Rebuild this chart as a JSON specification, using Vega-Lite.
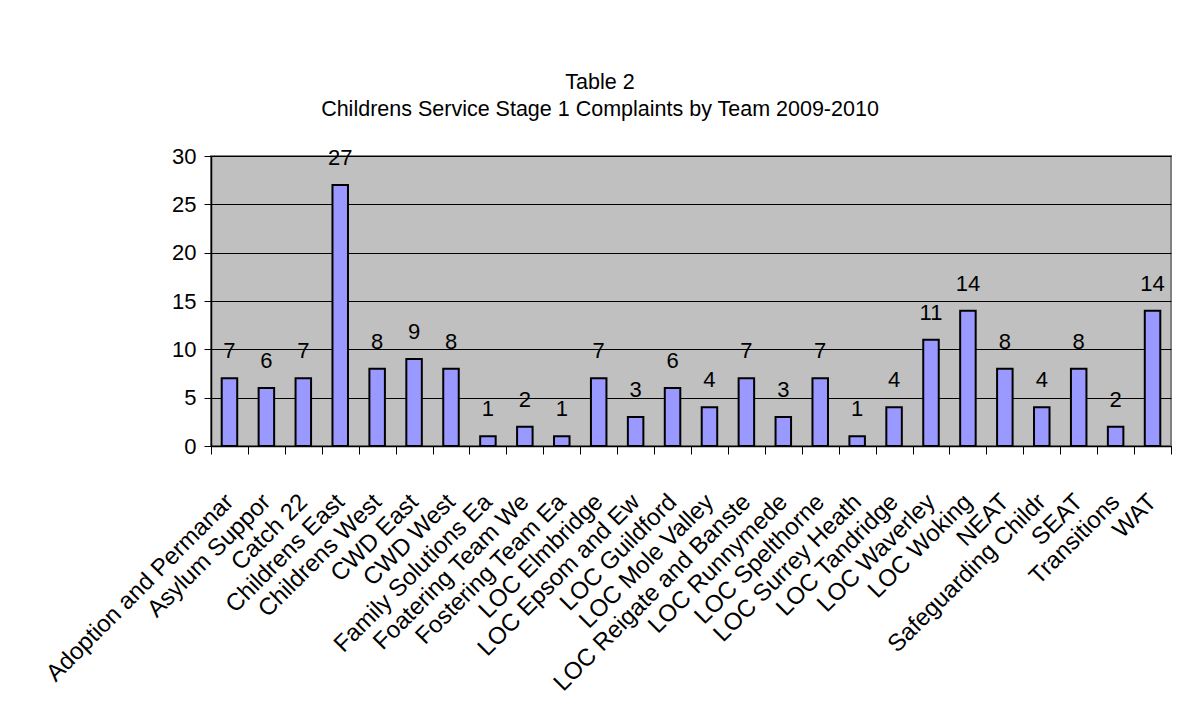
{
  "$schema": "https://vega.github.io/schema/vega-lite/v6.json",
  "width": 960,
  "height": 290,
  "autosize": {"type": "none"},
  "padding": {"left": 211, "top": 156, "right": 13, "bottom": 279},
  "background": "white",
  "title": {
    "text": ["Table 2", "Childrens Service Stage 1 Complaints by Team 2009-2010"],
    "font": "Liberation Sans",
    "fontSize": 21.5,
    "fontWeight": "normal",
    "color": "black",
    "lineHeight": 27,
    "anchor": "middle",
    "dx": -91,
    "offset": 25
  },
  "data": {
    "values": [
      {"team": "Adoption and Permanar", "complaints": 7},
      {"team": "Asylum Suppor", "complaints": 6},
      {"team": "Catch 22", "complaints": 7},
      {"team": "Childrens East", "complaints": 27},
      {"team": "Childrens West", "complaints": 8},
      {"team": "CWD East", "complaints": 9},
      {"team": "CWD West", "complaints": 8},
      {"team": "Family Solutions Ea", "complaints": 1},
      {"team": "Foatering Team We", "complaints": 2},
      {"team": "Fostering Team Ea", "complaints": 1},
      {"team": "LOC Elmbridge", "complaints": 7},
      {"team": "LOC Epsom and Ew", "complaints": 3},
      {"team": "LOC Guildford", "complaints": 6},
      {"team": "LOC Mole Valley", "complaints": 4},
      {"team": "LOC Reigate and Banste", "complaints": 7},
      {"team": "LOC Runnymede", "complaints": 3},
      {"team": "LOC Spelthorne", "complaints": 7},
      {"team": "LOC Surrey Heath", "complaints": 1},
      {"team": "LOC Tandridge", "complaints": 4},
      {"team": "LOC Waverley", "complaints": 11},
      {"team": "LOC Woking", "complaints": 14},
      {"team": "NEAT", "complaints": 8},
      {"team": "Safeguarding Childr", "complaints": 4},
      {"team": "SEAT", "complaints": 8},
      {"team": "Transitions", "complaints": 2},
      {"team": "WAT", "complaints": 14}
    ]
  },
  "config": {
    "view": {"fill": "#C0C0C0", "stroke": "#808080", "strokeWidth": 2},
    "font": "Liberation Sans"
  },
  "encoding": {
    "x": {
      "field": "team",
      "type": "nominal",
      "sort": null,
      "scale": {"paddingInner": 0, "paddingOuter": 0},
      "axis": {
        "title": null,
        "tickBand": "extent",
        "labelAngle": -45,
        "labelAlign": "right",
        "labelBaseline": "middle",
        "labelFont": "Liberation Sans",
        "labelFontSize": 24,
        "labelColor": "black",
        "labelPadding": 44,
        "labelLimit": 400,
        "labelOverlap": false,
        "tickSize": 8,
        "tickColor": "black",
        "domainColor": "black",
        "domainWidth": 1.5,
        "grid": false
      }
    },
    "y": {
      "field": "complaints",
      "type": "quantitative",
      "scale": {"domain": [0, 30]},
      "axis": {
        "title": null,
        "values": [0, 5, 10, 15, 20, 25, 30],
        "labelFont": "Liberation Sans",
        "labelFontSize": 22,
        "labelColor": "black",
        "labelPadding": 8,
        "tickSize": 7,
        "tickColor": "black",
        "domainColor": "black",
        "domainWidth": 1.5,
        "grid": true,
        "gridColor": "black",
        "gridWidth": 1,
        "gridOpacity": 1
      }
    }
  },
  "layer": [
    {
      "mark": {"type": "bar", "fill": "#9999FF", "stroke": "black", "strokeWidth": 2, "width": {"band": 0.42}}
    },
    {
      "mark": {"type": "text", "baseline": "bottom", "dy": -15, "fontSize": 22, "font": "Liberation Sans", "color": "black"},
      "encoding": {"text": {"field": "complaints", "type": "quantitative"}}
    }
  ]
}
